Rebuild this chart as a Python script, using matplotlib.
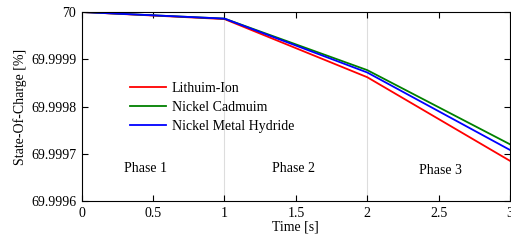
import matplotlib.pyplot as plt
import numpy as np

plt.rcParams['font.family'] = ['Liberation Serif', 'DejaVu Serif']

time = [0, 1, 2, 3]
li_ion = [70.0, 69.999985, 69.999862, 69.999685]
ni_cd = [70.0, 69.999986, 69.999877, 69.999720]
ni_mh = [70.0, 69.999986, 69.999872, 69.999708]

series = [
    ('Lithuim-Ion', li_ion, '#ff0000'),
    ('Nickel Cadmuim', ni_cd, '#008000'),
    ('Nickel Metal Hydride', ni_mh, '#0000ff'),
]

fig = plt.figure(figsize=(5.11, 2.4), dpi=100)
ax = fig.add_axes([0.16, 0.1625, 0.838, 0.7875])

for x in [1, 2]:
    ax.axvline(x, color='#dddddd', lw=0.8, zorder=0)

for name, vals, c in series:
    ax.plot(time, vals, color=c, lw=1.3, label=name)

ax.text(0.45, 69.999668, 'Phase 1', fontsize=10, ha='center', va='center')
ax.text(1.48, 69.999668, 'Phase 2', fontsize=10, ha='center', va='center')
ax.text(2.51, 69.999665, 'Phase 3', fontsize=10, ha='center', va='center')

ax.set_xlim(0, 3)
ax.set_ylim(69.9996, 70.0)
ax.set_xticks([0, 0.5, 1, 1.5, 2, 2.5, 3])
ax.set_xticklabels(['0', '0.5', '1', '1.5', '2', '2.5', '3'])
ax.set_yticks([69.9996, 69.9997, 69.9998, 69.9999, 70.0])
ax.set_yticklabels(['69.9996', '69.9997', '69.9998', '69.9999', '70'])
ax.tick_params(direction='in', top=True, right=True, labelsize=10, length=4, pad=4)
ax.set_xlabel('Time [s]', fontsize=10, labelpad=1)
ax.set_ylabel('State-Of-Charge [%]', fontsize=10, labelpad=3)

ax.legend(loc='upper left', bbox_to_anchor=(0.1, 0.66), frameon=False, fontsize=10,
          handlelength=2.6, handletextpad=0.4, labelspacing=0.45, borderaxespad=0)

fig.savefig('out.png', dpi=100)
